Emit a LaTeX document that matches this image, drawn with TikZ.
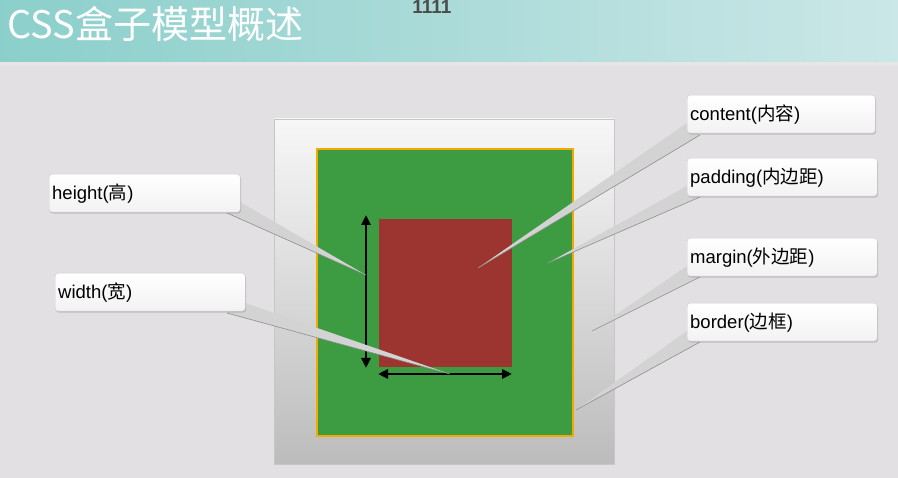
\documentclass[tikz,border=0pt]{standalone}
\usepackage{fontspec}
\setmainfont{Liberation Sans}
\newfontfamily\cjk{Noto Sans CJK SC}
\usetikzlibrary{arrows.meta,calc,shadows}
\definecolor{bgc}{HTML}{E2E0E2}
\definecolor{hdl}{HTML}{8BCFCB}
\definecolor{hdr}{HTML}{CBE7E7}
\definecolor{greenc}{HTML}{3D9B41}
\definecolor{orangec}{HTML}{F2A900}
\definecolor{redc}{HTML}{9C352F}
\definecolor{mtop}{HTML}{F8F7F8}
\definecolor{mbot}{HTML}{BDBCBD}
\definecolor{tailc}{HTML}{D4D3D4}
\definecolor{tailedge}{HTML}{8E8E8E}
\begin{document}
\begin{tikzpicture}[x=1pt,y=-1pt,
  lbl/.style={draw=gray!40, line width=0.4pt, rounded corners=3pt,
    top color=white, bottom color=gray!10, anchor=north west,
    text width=184pt, minimum height=38pt, inner xsep=3pt, inner ysep=2pt,
    align=left, font=\fontsize{18.5}{21}\selectfont,
    drop shadow={opacity=0.35, shadow xshift=0.8pt, shadow yshift=-1.5pt}},
  tail/.style={fill=tailc},
  tailline/.style={draw=tailedge, line width=0.6pt},
  dimarrow/.style={line width=2.8pt, {Triangle[length=10pt,width=9pt]}-{Triangle[length=10pt,width=9pt]}}
]
\useasboundingbox (0,0) rectangle (898,478);
\fill[bgc] (0,0) rectangle (898,478);
\shade[left color=hdl, right color=hdr] (0,0) rectangle (898,62);
\fill[white, opacity=0.2] (0,62) rectangle (898,66);
\node[anchor=west, text=white, font=\cjk\fontsize{38}{42}\selectfont, inner sep=0pt] (title) at (7,24) {CSS盒子模型概述};
\node[font=\bfseries\fontsize{19}{21}\selectfont, text=black!70, inner sep=0pt, anchor=north] (num) at (432,0.5) {1111};

% margin box
\shade[top color=mtop, bottom color=mbot, draw=gray!45, line width=0.4pt] (274,119) rectangle (614,464);
% border + padding
\draw[fill=greenc, draw=orangec, line width=2.8pt] (317,149) rectangle (573,436);
% content
\fill[redc] (379,219) rectangle (512,367);

% dimension arrows
\coordinate (vt) at (366,215);
\coordinate (vb) at (366,368);
\coordinate (hl) at (378,374);
\coordinate (hr) at (512,374);
\draw[dimarrow] (vt) -- (vb);
\draw[dimarrow] (hl) -- (hr);

% tip points
\coordinate (thgt) at (366,275);
\coordinate (twid) at (450,374);
\coordinate (tcon) at (478,268);
\coordinate (tpad) at (548,263);
\coordinate (tmar) at (592,331);
\coordinate (tbor) at (576,410);

% label box positions
\coordinate (phgt) at (49,174);
\coordinate (pwid) at (55,273);
\coordinate (pcon) at (687,95);
\coordinate (ppad) at (687,158);
\coordinate (pmar) at (687,238);
\coordinate (pbor) at (687,303);

% tails
\fill[tail] ($(phgt)+(178,39)$) -- (thgt) -- ($(phgt)+(191,28)$) -- cycle;
\draw[tailline] ($(phgt)+(178,39)$) -- (thgt);
\fill[tail] ($(pwid)+(172,40)$) -- (twid) -- ($(pwid)+(190,30)$) -- cycle;
\draw[tailline] ($(pwid)+(172,40)$) -- (twid);
\fill[tail] ($(pcon)+(0,28)$) -- (tcon) -- ($(pcon)+(13,40)$) -- cycle;
\draw[tailline] ($(pcon)+(13,40)$) -- (tcon);
\fill[tail] ($(ppad)+(0,28)$) -- (tpad) -- ($(ppad)+(13,39)$) -- cycle;
\draw[tailline] ($(ppad)+(13,39)$) -- (tpad);
\fill[tail] ($(pmar)+(0,28)$) -- (tmar) -- ($(pmar)+(13,39)$) -- cycle;
\draw[tailline] ($(pmar)+(13,39)$) -- (tmar);
\fill[tail] ($(pbor)+(0,28)$) -- (tbor) -- ($(pbor)+(13,39)$) -- cycle;
\draw[tailline] ($(pbor)+(13,39)$) -- (tbor);

\node[lbl, text width=185pt] (lhgt) at (phgt) {height({\cjk 高})};
\node[lbl] (lwid) at (pwid) {width({\cjk 宽})};
\node[lbl, text width=182pt] (lcon) at (pcon) {content({\cjk 内容})};
\node[lbl] (lpad) at (ppad) {padding({\cjk 内边距})};
\node[lbl] (lmar) at (pmar) {margin({\cjk 外边距})};
\node[lbl] (lbor) at (pbor) {border({\cjk 边框})};
\end{tikzpicture}
\end{document}
